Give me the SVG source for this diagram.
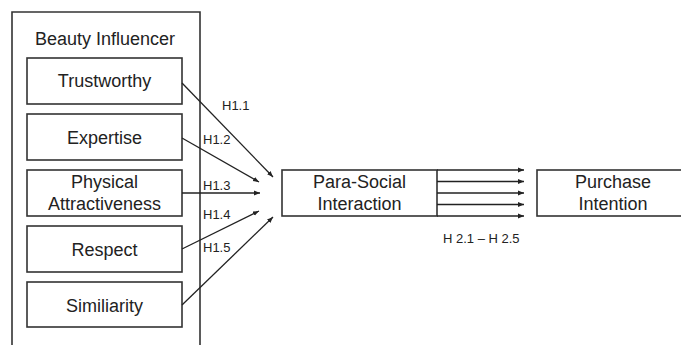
<svg xmlns="http://www.w3.org/2000/svg" width="681" height="345" viewBox="0 0 681 345">
<defs>
<marker id="ah" viewBox="0 0 10 10" refX="10" refY="5" markerWidth="6" markerHeight="6" markerUnits="userSpaceOnUse" orient="auto">
<path d="M0,1 L10,5 L0,9 z" fill="#222"/>
</marker>
<style>
.box{fill:#fff;stroke:#333;stroke-width:1.6}
.lbl{font-family:"Liberation Sans",Arial,sans-serif;font-size:18px;fill:#222;text-anchor:middle}
.h{font-family:"Liberation Sans",Arial,sans-serif;font-size:13px;fill:#222}
.c{stroke:#222;stroke-width:1.3;fill:none;marker-end:url(#ah)}
</style>
</defs>
<rect width="681" height="345" fill="#fff"/>
<g id="beauty-influencer">
<path d="M12,350 L12,12 L200,12 L200,350" class="box"/>
<text class="lbl" x="105" y="45">Beauty Influencer</text>
</g>
<g id="trustworthy">
<rect class="box" x="27" y="58" width="155" height="46"/>
<text class="lbl" x="104.5" y="87">Trustworthy</text>
</g>
<g id="expertise">
<rect class="box" x="27" y="114" width="155" height="46"/>
<text class="lbl" x="104.5" y="144">Expertise</text>
</g>
<g id="physical">
<rect class="box" x="27" y="170" width="155" height="46"/>
<text class="lbl" x="104.5" y="188">Physical</text>
<text class="lbl" x="104.5" y="210">Attractiveness</text>
</g>
<g id="respect">
<rect class="box" x="27" y="226" width="155" height="46"/>
<text class="lbl" x="104.5" y="256">Respect</text>
</g>
<g id="similiarity">
<rect class="box" x="27" y="282" width="155" height="45"/>
<text class="lbl" x="104.5" y="312">Similiarity</text>
</g>
<g id="psi">
<rect class="box" x="282" y="170" width="155" height="46"/>
<text class="lbl" x="359.5" y="188">Para-Social</text>
<text class="lbl" x="359.5" y="210">Interaction</text>
</g>
<g id="purchase">
<rect class="box" x="537" y="170" width="150" height="46"/>
<text class="lbl" x="613" y="188">Purchase</text>
<text class="lbl" x="613" y="210">Intention</text>
</g>
<g id="connectors">
<line class="c" x1="182" y1="83" x2="273" y2="177"/>
<line class="c" x1="182" y1="138" x2="259" y2="182"/>
<line class="c" x1="182" y1="193" x2="260" y2="193"/>
<line class="c" x1="182" y1="249" x2="259" y2="211"/>
<line class="c" x1="182" y1="305" x2="273" y2="217"/>
<line class="c" x1="437" y1="170" x2="524" y2="170"/>
<line class="c" x1="437" y1="181.5" x2="524" y2="181.5"/>
<line class="c" x1="437" y1="193" x2="524" y2="193"/>
<line class="c" x1="437" y1="204.5" x2="524" y2="204.5"/>
<line class="c" x1="437" y1="216" x2="524" y2="216"/>
<text class="h" x="222" y="110">H1.1</text>
<text class="h" x="203" y="144">H1.2</text>
<text class="h" x="203" y="190">H1.3</text>
<text class="h" x="203" y="219">H1.4</text>
<text class="h" x="203" y="252">H1.5</text>
<text class="h" x="443" y="243">H 2.1 – H 2.5</text>
</g>
</svg>
